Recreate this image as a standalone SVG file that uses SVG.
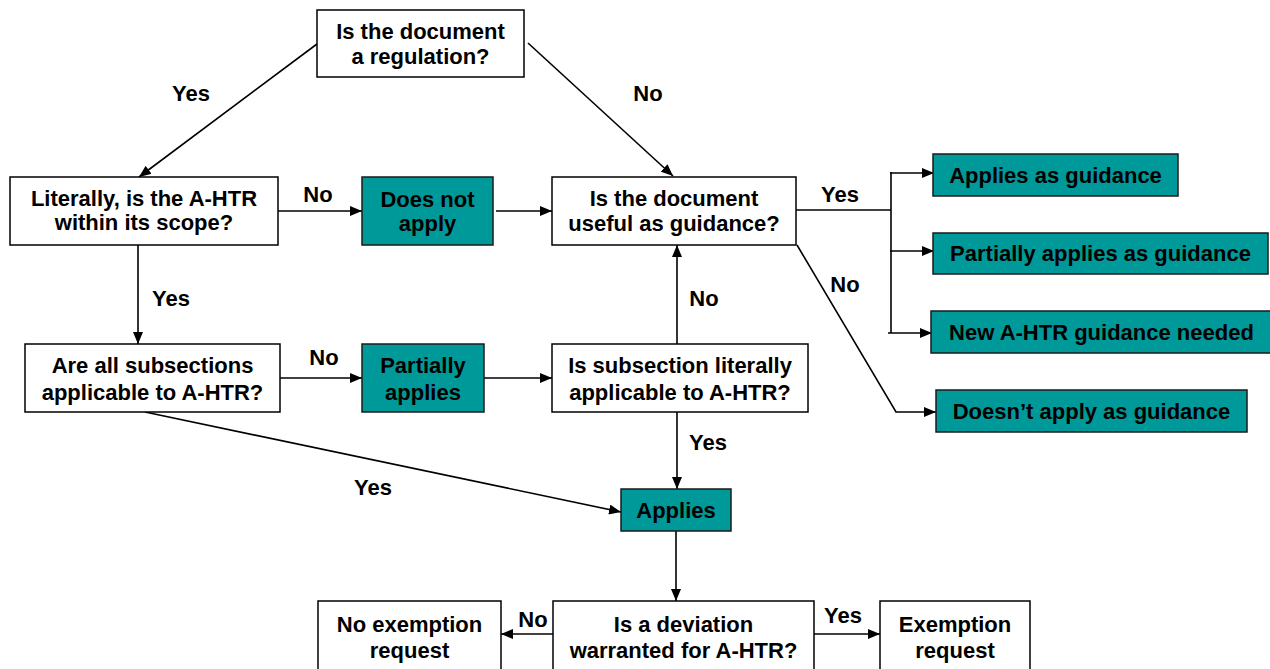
<svg xmlns="http://www.w3.org/2000/svg" width="1270" height="669" viewBox="0 0 1270 669">
  <style>
    text { font-family: "Liberation Sans", Arial, sans-serif; font-weight: bold; font-size: 22px; fill: #000; text-anchor: middle; }
    .q { fill: #fff; stroke: #000; stroke-width: 1.5; }
    .r { fill: #009999; stroke: #1a1a1a; stroke-width: 1.5; }
    .c { fill: none; stroke: #000; stroke-width: 1.6; }
    .a { marker-end: url(#arrow); }
  </style>
  <defs>
    <marker id="arrow" markerUnits="userSpaceOnUse" markerWidth="13" markerHeight="10" refX="12" refY="5" orient="auto">
      <path d="M0,0 L12,5 L0,10 z" fill="#000"/>
    </marker>
  </defs>
  <rect width="1270" height="669" fill="#fff"/>

  <!-- connectors -->
  <g id="connectors">
    <line class="c a" x1="317" y1="44" x2="139" y2="177"/>
    <line class="c a" x1="528" y1="43" x2="673" y2="176"/>
    <line class="c a" x1="278" y1="211" x2="362" y2="211"/>
    <line class="c a" x1="496" y1="211" x2="552" y2="211"/>
    <polyline class="c" points="796,210 891,210"/>
    <line class="c" x1="891" y1="172" x2="891" y2="333"/>
    <line class="c a" x1="890" y1="173" x2="934" y2="173"/>
    <line class="c a" x1="890" y1="251" x2="934" y2="251"/>
    <line class="c a" x1="888" y1="333" x2="932" y2="333"/>
    <polyline class="c a" points="797,245 896,412 936,412"/>
    <line class="c a" x1="138" y1="245" x2="138" y2="344"/>
    <line class="c a" x1="280" y1="378" x2="362" y2="378"/>
    <line class="c a" x1="484" y1="378" x2="552" y2="378"/>
    <line class="c a" x1="677" y1="344" x2="677" y2="245"/>
    <line class="c a" x1="677" y1="412" x2="677" y2="489"/>
    <line class="c a" x1="145" y1="412" x2="621" y2="512"/>
    <line class="c a" x1="676" y1="531" x2="676" y2="601"/>
    <line class="c a" x1="553" y1="634" x2="501" y2="634"/>
    <line class="c a" x1="809" y1="634" x2="880" y2="634"/>

    <text x="191" y="101">Yes</text>
    <text x="648" y="101">No</text>
    <text x="318" y="202">No</text>
    <text x="840" y="202">Yes</text>
    <text x="845" y="292">No</text>
    <text x="704" y="306">No</text>
    <text x="171" y="306">Yes</text>
    <text x="324" y="365">No</text>
    <text x="708" y="450">Yes</text>
    <text x="373" y="495">Yes</text>
    <text x="533" y="627">No</text>
    <text x="843" y="623">Yes</text>
  </g>

  <g id="is-regulation">
    <rect class="q" x="317" y="10" width="207" height="67"/>
    <text x="420.5" y="39">Is the document</text>
    <text x="420.5" y="64">a regulation?</text>
  </g>

  <g id="within-scope">
    <rect class="q" x="10" y="177" width="268" height="68"/>
    <text x="144" y="206">Literally, is the A-HTR</text>
    <text x="144" y="230">within its scope?</text>
  </g>

  <g id="does-not-apply">
    <rect class="r" x="362" y="177" width="131" height="68"/>
    <text x="427.5" y="207">Does not</text>
    <text x="427.5" y="231">apply</text>
  </g>

  <g id="useful-as-guidance">
    <rect class="q" x="552" y="177" width="244" height="68"/>
    <text x="674" y="206">Is the document</text>
    <text x="674" y="231">useful as guidance?</text>
  </g>

  <g id="applies-as-guidance">
    <rect class="r" x="933" y="154" width="245" height="42"/>
    <text x="1055.5" y="183">Applies as guidance</text>
  </g>

  <g id="partially-applies-as-guidance">
    <rect class="r" x="933" y="233" width="335" height="41"/>
    <text x="1100.5" y="261">Partially applies as guidance</text>
  </g>

  <g id="new-guidance-needed">
    <rect class="r" x="931" y="311" width="341" height="42"/>
    <text x="1101.5" y="340">New A-HTR guidance needed</text>
  </g>

  <g id="does-not-apply-as-guidance">
    <rect class="r" x="936" y="390" width="311" height="42"/>
    <text x="1091.5" y="419">Doesn’t apply as guidance</text>
  </g>

  <g id="all-subsections">
    <rect class="q" x="25" y="344" width="255" height="68"/>
    <text x="152.5" y="373">Are all subsections</text>
    <text x="152.5" y="400">applicable to A-HTR?</text>
  </g>

  <g id="partially-applies">
    <rect class="r" x="362" y="344" width="122" height="68"/>
    <text x="423" y="373">Partially</text>
    <text x="423" y="400">applies</text>
  </g>

  <g id="subsection-applicable">
    <rect class="q" x="552" y="344" width="256" height="68"/>
    <text x="680" y="373">Is subsection literally</text>
    <text x="680" y="400">applicable to A-HTR?</text>
  </g>

  <g id="applies">
    <rect class="r" x="621" y="489" width="110" height="42"/>
    <text x="676" y="518">Applies</text>
  </g>

  <g id="deviation-warranted">
    <rect class="q" x="553" y="601" width="261" height="80"/>
    <text x="683.5" y="632">Is a deviation</text>
    <text x="683.5" y="658">warranted for A-HTR?</text>
  </g>

  <g id="no-exemption-request">
    <rect class="q" x="318" y="601" width="183" height="80"/>
    <text x="409.5" y="632">No exemption</text>
    <text x="409.5" y="658">request</text>
  </g>

  <g id="exemption-request">
    <rect class="q" x="880" y="601" width="150" height="80"/>
    <text x="955" y="632">Exemption</text>
    <text x="955" y="658">request</text>
  </g>
</svg>
